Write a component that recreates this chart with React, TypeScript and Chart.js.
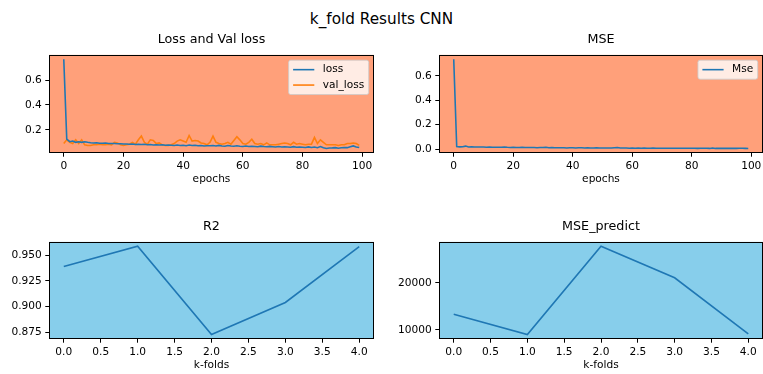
import React, { useEffect, useRef } from "react";
import { Chart, registerables } from "chart.js";

Chart.register(...registerables);

// ---- data ----
const epochs = Array.from({ length: 100 }, (_, i) => i);

const loss = [
  0.767, 0.125, 0.105, 0.11, 0.1, 0.105, 0.1, 0.105, 0.1, 0.097,
  0.095, 0.096, 0.093, 0.092, 0.094, 0.09, 0.091, 0.09, 0.088, 0.089,
  0.086, 0.087, 0.085, 0.086, 0.083, 0.085, 0.082, 0.084, 0.08, 0.082,
  0.079, 0.081, 0.078, 0.08, 0.076, 0.078, 0.077, 0.075, 0.078, 0.074,
  0.077, 0.073, 0.078, 0.074, 0.076, 0.072, 0.075, 0.071, 0.073, 0.072,
  0.074, 0.07, 0.075, 0.071, 0.069, 0.074, 0.07, 0.068, 0.072, 0.069,
  0.067, 0.07, 0.066, 0.068, 0.067, 0.065, 0.069, 0.066, 0.064, 0.067,
  0.065, 0.063, 0.066, 0.062, 0.064, 0.063, 0.061, 0.065, 0.06, 0.062,
  0.061, 0.059, 0.063, 0.058, 0.062, 0.057, 0.066, 0.056, 0.05, 0.054,
  0.055, 0.057, 0.053, 0.056, 0.058, 0.057, 0.064, 0.071, 0.063, 0.058,
];

const valLoss = [
  0.09, 0.12, 0.1, 0.09, 0.12, 0.09, 0.12, 0.08, 0.075, 0.075,
  0.08, 0.08, 0.085, 0.08, 0.08, 0.085, 0.08, 0.1, 0.095, 0.08,
  0.075, 0.08, 0.085, 0.1, 0.085, 0.12, 0.15, 0.1, 0.085, 0.12,
  0.115, 0.09, 0.095, 0.08, 0.075, 0.075, 0.08, 0.09, 0.11, 0.12,
  0.11, 0.1, 0.155, 0.11, 0.115, 0.11, 0.095, 0.09, 0.08, 0.1,
  0.15, 0.1, 0.09, 0.085, 0.09, 0.1, 0.085, 0.115, 0.145, 0.12,
  0.09, 0.085, 0.1, 0.125, 0.09, 0.085, 0.09, 0.08, 0.095, 0.08,
  0.08, 0.08, 0.085, 0.09, 0.095, 0.09, 0.08, 0.1, 0.085, 0.09,
  0.085, 0.08, 0.085, 0.085, 0.14, 0.09, 0.12, 0.1, 0.08, 0.08,
  0.08, 0.08, 0.075, 0.08, 0.08, 0.09, 0.09, 0.095, 0.09, 0.075,
];

const mse = [
  0.735, 0.021, 0.018, 0.019, 0.024, 0.017, 0.018, 0.017, 0.016, 0.017,
  0.016, 0.015, 0.016, 0.014, 0.015, 0.015, 0.014, 0.016, 0.014, 0.013,
  0.014, 0.013, 0.012, 0.014, 0.013, 0.012, 0.013, 0.012, 0.011, 0.013,
  0.012, 0.014, 0.011, 0.012, 0.011, 0.01, 0.011, 0.01, 0.009, 0.011,
  0.01, 0.009, 0.011, 0.01, 0.009, 0.01, 0.009, 0.008, 0.01, 0.009,
  0.009, 0.008, 0.009, 0.008, 0.01, 0.012, 0.008, 0.009, 0.008, 0.007,
  0.008, 0.007, 0.008, 0.007, 0.008, 0.007, 0.007, 0.008, 0.007, 0.006,
  0.007, 0.007, 0.006, 0.007, 0.006, 0.007, 0.006, 0.006, 0.007, 0.006,
  0.006, 0.006, 0.005, 0.006, 0.007, 0.006, 0.005, 0.008, 0.005, 0.005,
  0.006, 0.005, 0.005, 0.006, 0.005, 0.005, 0.006, 0.006, 0.005, 0.004,
];

const folds = [0, 1, 2, 3, 4];
const r2 = [0.939, 0.9588, 0.8725, 0.9039, 0.9585];
const msePredict = [13320, 9000, 27760, 21070, 9150];

const epochTicks = [0, 20, 40, 60, 80, 100];
const foldTicks = [0, 0.5, 1, 1.5, 2, 2.5, 3, 3.5, 4];
const lossTicks = [0.2, 0.4, 0.6];
const mseTicks = [0, 0.2, 0.4, 0.6];
const r2Ticks = [0.875, 0.9, 0.925, 0.95];
const predictTicks = [10000, 20000];

// ---- style ----
const FONT = '"DejaVu Sans", sans-serif';
const PT = 1.06; // pixels per point
const BLUE = "#1f77b4";
const ORANGE = "#ff7f0e";
const SALMON = "#ffa07a";
const SKY = "#87ceeb";

// axis widths reserved around each plot area
const YW = 50;
const PAD_T = 4;
const PAD_R = 8;
const XH = 36;

// auto limits with 5% margins
function limits(values: number[]): [number, number] {
  const lo = Math.min(...values);
  const hi = Math.max(...values);
  const m = (hi - lo) * 0.05;
  return [lo - m, hi + m];
}

type Series = { label: string; xs: number[]; ys: number[]; color: string };

type PanelProps = {
  area: { L: number; T: number; R: number; B: number };
  title: string;
  series: Series[];
  xTicks: number[];
  yTicks: number[];
  xFmt: (v: number) => string;
  yFmt: (v: number) => string;
  xLabel: string;
  bg: string;
  legend: boolean;
};

const framePlugin = {
  id: "axesFrame",
  beforeDraw(chart: any, _a: any, opts: any) {
    const { ctx, chartArea: c } = chart;
    ctx.save();
    ctx.fillStyle = opts.bg;
    ctx.fillRect(c.left, c.top, c.right - c.left, c.bottom - c.top);
    ctx.restore();
  },
  afterDatasetsDraw(chart: any) {
    const { ctx, chartArea: c } = chart;
    ctx.save();
    ctx.strokeStyle = "#000";
    ctx.lineWidth = 1;
    const l = Math.round(c.left) + 0.5;
    const t = Math.round(c.top) + 0.5;
    const r = Math.round(c.right) - 0.5;
    const b = Math.round(c.bottom) - 0.5;
    ctx.strokeRect(l, t, r - l, b - t);
    ctx.restore();
  },
};

const insideLegend = {
  id: "insideLegend",
  afterDraw(chart: any, _a: any, opts: any) {
    if (!opts || !opts.show) return;
    const { ctx, chartArea: c } = chart;
    const fs = 10 * PT;
    const pad = 0.42 * fs;
    const handle = 2 * fs;
    const gap = 0.8 * fs;
    const rowH = 10.1;
    const spacing = 0.5 * fs;
    const edge = 0.5 * fs;
    ctx.save();
    ctx.font = `${fs}px ${FONT}`;
    const items = chart.data.datasets.map((d: any) => ({ label: d.label, color: d.borderColor }));
    const textW = Math.max(...items.map((it: any) => ctx.measureText(it.label).width));
    const w = pad + handle + gap + textW + pad;
    const h = 2 * pad + items.length * rowH + (items.length - 1) * spacing;
    const x = c.right - edge - w;
    const y = c.top + edge;
    const rr = 0.2 * fs;
    ctx.beginPath();
    ctx.moveTo(x + rr, y);
    ctx.lineTo(x + w - rr, y);
    ctx.arcTo(x + w, y, x + w, y + rr, rr);
    ctx.lineTo(x + w, y + h - rr);
    ctx.arcTo(x + w, y + h, x + w - rr, y + h, rr);
    ctx.lineTo(x + rr, y + h);
    ctx.arcTo(x, y + h, x, y + h - rr, rr);
    ctx.lineTo(x, y + rr);
    ctx.arcTo(x, y, x + rr, y, rr);
    ctx.closePath();
    ctx.fillStyle = "rgba(255,255,255,0.8)";
    ctx.fill();
    ctx.strokeStyle = "rgba(204,204,204,0.8)";
    ctx.lineWidth = 1;
    ctx.stroke();
    items.forEach((it: any, i: number) => {
      const cy = y + pad + rowH / 2 + i * (rowH + spacing);
      ctx.beginPath();
      ctx.moveTo(x + pad, cy);
      ctx.lineTo(x + pad + handle, cy);
      ctx.strokeStyle = it.color;
      ctx.lineWidth = 1.5 * PT;
      ctx.stroke();
      ctx.fillStyle = "#000";
      ctx.textBaseline = "middle";
      ctx.textAlign = "left";
      ctx.fillText(it.label, x + pad + handle + gap, cy);
    });
    ctx.restore();
  },
};

function Panel(p: PanelProps) {
  const ref = useRef<HTMLCanvasElement | null>(null);
  const { L, T, R, B } = p.area;
  const left = L - YW;
  const top = T - PAD_T;
  const width = R - L + YW + PAD_R;
  const height = B - T + PAD_T + XH;

  useEffect(() => {
    if (!ref.current) return;
    const allX = p.series.flatMap((s) => s.xs);
    const allY = p.series.flatMap((s) => s.ys);
    const [xmin, xmax] = limits(allX);
    const [ymin, ymax] = limits(allY);
    const tickFont = { family: FONT, size: 10 * PT };
    const chart = new Chart(ref.current, {
      type: "line",
      data: {
        datasets: p.series.map((s) => ({
          label: s.label,
          data: s.xs.map((x, i) => ({ x, y: s.ys[i] })),
          borderColor: s.color,
          backgroundColor: s.color,
          borderWidth: 1.5 * PT,
          pointRadius: 0,
          tension: 0,
          fill: false,
        })),
      },
      options: {
        responsive: false,
        animation: false,
        devicePixelRatio: 1,
        layout: { padding: { top: PAD_T, right: PAD_R, left: 0, bottom: 0 } },
        plugins: {
          legend: { display: false },
          tooltip: { enabled: false },
          title: { display: false },
          axesFrame: { bg: p.bg },
          insideLegend: { show: p.legend },
        } as any,
        scales: {
          x: {
            type: "linear",
            min: xmin,
            max: xmax,
            afterBuildTicks: (axis: any) => {
              axis.ticks = p.xTicks.map((v) => ({ value: v }));
            },
            afterFit: (axis: any) => {
              axis.height = XH;
            },
            border: { display: false },
            grid: { drawOnChartArea: false, drawTicks: true, tickLength: 3.5 * PT, color: "#000", lineWidth: 1 },
            ticks: {
              autoSkip: false,
              maxRotation: 0,
              padding: 3,
              color: "#000",
              font: tickFont,
              callback: (v: any) => p.xFmt(Number(v)),
            },
            title: {
              display: true,
              text: p.xLabel,
              color: "#000",
              font: tickFont,
              padding: { top: 0, bottom: 3.7 },
            },
          },
          y: {
            type: "linear",
            min: ymin,
            max: ymax,
            afterBuildTicks: (axis: any) => {
              axis.ticks = p.yTicks.map((v) => ({ value: v }));
            },
            afterFit: (axis: any) => {
              axis.width = YW;
            },
            border: { display: false },
            grid: { drawOnChartArea: false, drawTicks: true, tickLength: 3.5 * PT, color: "#000", lineWidth: 1 },
            ticks: {
              autoSkip: false,
              padding: 3.5,
              color: "#000",
              font: tickFont,
              callback: (v: any) => p.yFmt(Number(v)),
            },
          },
        },
      },
      plugins: [framePlugin, insideLegend],
    });
    return () => chart.destroy();
  }, []);

  const titleSize = 12 * PT;
  const titleH = 15;
  const baseline = T - 5.8;
  const titleTop = baseline - ((titleH - 1.164 * titleSize) / 2 + 0.928 * titleSize);

  return (
    <>
      <canvas
        ref={ref}
        width={width}
        height={height}
        style={{ position: "absolute", left, top, width, height }}
      />
      <div
        style={{
          position: "absolute",
          left: L,
          width: R - L,
          top: titleTop,
          height: titleH,
          lineHeight: `${titleH}px`,
          fontSize: titleSize,
          fontFamily: FONT,
          textAlign: "center",
          color: "#000",
          whiteSpace: "nowrap",
        }}
      >
        {p.title}
      </div>
    </>
  );
}

export default function App() {
  const supSize = 12 * 1.2 * PT;
  const supH = 18;
  const supTop = 24 - ((supH - 1.164 * supSize) / 2 + 0.928 * supSize);
  return (
    <div
      style={{
        position: "fixed",
        left: 0,
        top: 0,
        width: 763,
        height: 374,
        background: "#fff",
        overflow: "hidden",
      }}
    >
      <div
        style={{
          position: "absolute",
          left: 0,
          width: 763,
          top: supTop,
          height: supH,
          lineHeight: `${supH}px`,
          fontSize: supSize,
          fontFamily: FONT,
          textAlign: "center",
          color: "#000",
        }}
      >
        k_fold Results CNN
      </div>
      <Panel
        area={{ L: 49, T: 49, R: 374, B: 153 }}
        title="Loss and Val loss"
        series={[
          { label: "loss", xs: epochs, ys: loss, color: BLUE },
          { label: "val_loss", xs: epochs, ys: valLoss, color: ORANGE },
        ]}
        xTicks={epochTicks}
        yTicks={lossTicks}
        xFmt={(v) => String(v)}
        yFmt={(v) => v.toFixed(1)}
        xLabel="epochs"
        bg={SALMON}
        legend={true}
      />
      <Panel
        area={{ L: 439, T: 49, R: 763, B: 153 }}
        title="MSE"
        series={[{ label: "Mse", xs: epochs, ys: mse, color: BLUE }]}
        xTicks={epochTicks}
        yTicks={mseTicks}
        xFmt={(v) => String(v)}
        yFmt={(v) => v.toFixed(1)}
        xLabel="epochs"
        bg={SALMON}
        legend={true}
      />
      <Panel
        area={{ L: 49, T: 236, R: 374, B: 339 }}
        title="R2"
        series={[{ label: "R2", xs: folds, ys: r2, color: BLUE }]}
        xTicks={foldTicks}
        yTicks={r2Ticks}
        xFmt={(v) => v.toFixed(1)}
        yFmt={(v) => v.toFixed(3)}
        xLabel="k-folds"
        bg={SKY}
        legend={false}
      />
      <Panel
        area={{ L: 439, T: 236, R: 763, B: 339 }}
        title="MSE_predict"
        series={[{ label: "MSE_predict", xs: folds, ys: msePredict, color: BLUE }]}
        xTicks={foldTicks}
        yTicks={predictTicks}
        xFmt={(v) => v.toFixed(1)}
        yFmt={(v) => String(Math.round(v))}
        xLabel="k-folds"
        bg={SKY}
        legend={false}
      />
    </div>
  );
}
